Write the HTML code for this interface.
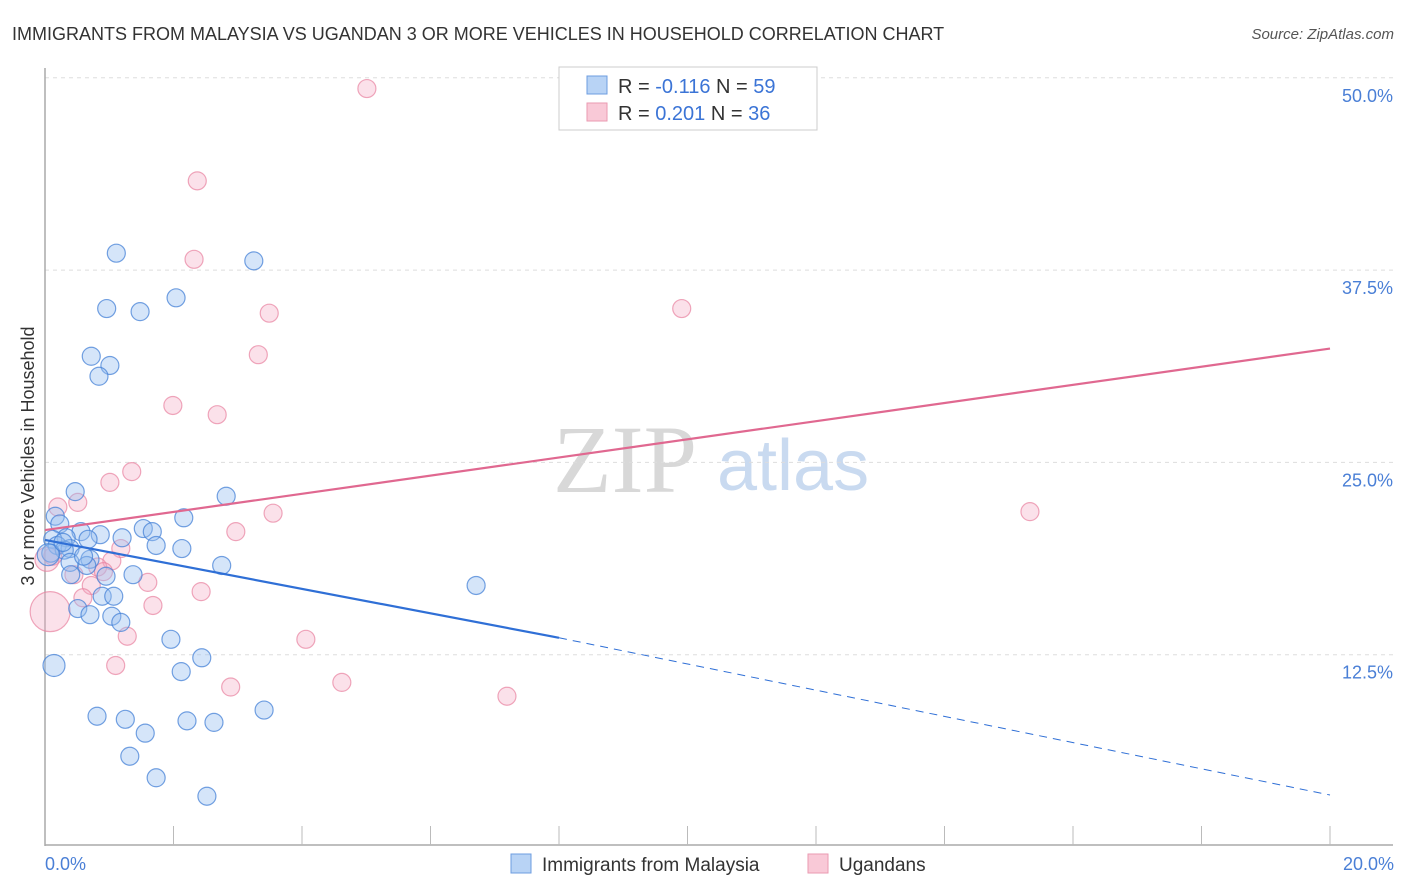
<!DOCTYPE html>
<html><head><meta charset="utf-8">
<style>
body{margin:0;background:#fff;font-family:"Liberation Sans",sans-serif;}
svg{display:block}
</style></head>
<body>
<svg id="chart" width="1406" height="892">
<text x="12" y="40" font-size="18" fill="#333">IMMIGRANTS FROM MALAYSIA VS UGANDAN 3 OR MORE VEHICLES IN HOUSEHOLD CORRELATION CHART</text>
<text x="1394" y="39" font-size="15" fill="#555" text-anchor="end" font-style="italic">Source: ZipAtlas.com</text>
<g>
<text x="553" y="492" font-size="96" font-family="Liberation Serif,serif" fill="#d8d8d8">ZIP</text>
<text x="717" y="490" font-size="72" fill="#c9daf0">atlas</text>
</g>
<g id="grid"></g>
<g id="axes"></g>
<g id="marks"></g>
<text transform="translate(34,456) rotate(-90)" font-size="18" fill="#333" text-anchor="middle">3 or more Vehicles in Household</text>
<text x="45" y="870" font-size="18" fill="#4a7fd6">0.0%</text>
<text x="1394" y="870" font-size="18" fill="#4a7fd6" text-anchor="end">20.0%</text>
<g>
<rect x="559" y="67" width="258" height="63" fill="#fff" stroke="#ccc"/>
<rect x="587" y="76" width="20" height="18" fill="#b8d3f5" stroke="#6d9de0"/>
<rect x="587" y="103" width="20" height="18" fill="#f9c9d7" stroke="#ea9ab2"/>
<text x="618" y="93" font-size="20" fill="#333">R = <tspan fill="#3b74d6">-0.116</tspan>   N = <tspan fill="#3b74d6">59</tspan></text>
<text x="618" y="120" font-size="20" fill="#333">R = <tspan fill="#3b74d6"> 0.201</tspan>   N = <tspan fill="#3b74d6">36</tspan></text>
</g>
<g>
<rect x="511" y="854" width="20" height="19" fill="#b8d3f5" stroke="#6d9de0"/>
<text x="542" y="871" font-size="19" fill="#333">Immigrants from Malaysia</text>
<rect x="808" y="854" width="20" height="19" fill="#f9c9d7" stroke="#ea9ab2"/>
<text x="839" y="871" font-size="19" fill="#333">Ugandans</text>
</g>
</svg>
<script>
const yTicks=[12.5,25,37.5,50];
const yTickLabels=["12.5%","25.0%","37.5%","50.0%"];
const blueX=[1.11,3.25,0.96,1.48,2.04,0.72,1.01,0.84,0.47,2.82,0.16,2.16,0.23,1.53,1.67,0.56,0.86,0.33,1.2,0.67,0.12,0.19,1.73,0.39,2.13,0.3,0.09,0.7,0.39,2.75,0.65,0.4,1.37,0.95,6.71,0.89,1.07,0.51,0.7,1.04,1.18,1.96,2.44,0.14,2.12,0.81,1.25,2.21,2.63,3.41,1.56,1.32,1.73,2.52,0.05,0.28,0.6];
const blueY=[38.6,38.1,35.0,34.8,35.7,31.9,31.3,30.6,23.1,22.8,21.5,21.4,21.0,20.7,20.5,20.5,20.3,20.1,20.1,20.0,20.0,19.6,19.6,19.4,19.4,19.3,19.1,18.7,18.5,18.3,18.3,17.7,17.7,17.6,17.0,16.3,16.3,15.5,15.1,15.0,14.6,13.5,12.3,11.8,11.4,8.5,8.3,8.2,8.1,8.9,7.4,5.9,4.5,3.3,19.0,19.8,18.9];
const blueR=[9,9,9,9,9,9,9,9,9,9,9,9,9,9,9,9,9,9,9,9,9,9,9,9,9,9,9,9,9,9,9,9,9,9,9,9,9,9,9,9,9,9,9,11,9,9,9,9,9,9,9,9,9,9,11,9,9];
const pinkX=[5.01,2.37,2.32,9.91,3.49,3.32,1.99,2.68,1.35,1.01,0.51,0.2,3.55,15.33,2.97,1.18,0.12,1.04,0.82,0.91,0.45,1.6,0.72,0.59,2.43,1.68,0.08,1.28,4.06,1.1,2.89,4.62,7.19,0.03];
const pinkY=[49.3,43.3,38.2,35.0,34.7,32.0,28.7,28.1,24.4,23.7,22.4,22.1,21.7,21.8,20.5,19.4,18.9,18.6,18.2,17.9,17.7,17.2,17.0,16.2,16.6,15.7,15.3,13.7,13.5,11.8,10.4,10.7,9.8,18.7];
const pinkR=[9,9,9,9,9,9,9,9,9,9,9,9,9,9,9,9,9,9,9,9,9,9,9,9,9,9,20,9,9,9,9,9,9,12];
const blueTrend=[0,19.96,8,13.6,20,3.38];
const pinkTrend=[0,20.6,20,32.4];
const X0=45,X1=1330,Y0=847,PXPER=192.3/12.5;
const xs=v=>X0+(X1-X0)*v/20;
const ys=v=>Y0-v*PXPER;
const NS="http://www.w3.org/2000/svg";
function mk(tag,attrs,parent){const e=document.createElementNS(NS,tag);for(const k in attrs)e.setAttribute(k,attrs[k]);parent.appendChild(e);return e;}
const grid=document.getElementById('grid'),axes=document.getElementById('axes'),marks=document.getElementById('marks');
yTicks.forEach((t,i)=>{
 const l=mk('line',{x1:X0,x2:1393,y1:ys(t),y2:ys(t),stroke:'#ddd','stroke-dasharray':'4,4'},grid);
 
 
 const tx=mk('text',{x:1393,y:ys(t)+24,'font-size':18,fill:'#4a7fd6','text-anchor':'end'},axes);
 tx.textContent=yTickLabels[i];
 
 
});
const ax=mk('line',{x1:X0,x2:X0,y1:68,y2:846,stroke:'#aaa','stroke-width':1.5},axes);


const bx=mk('line',{x1:X0,x2:1393,y1:845,y2:845,stroke:'#aaa','stroke-width':1.5},axes);


for(let i=1;i<=10;i++){
 const t=mk('line',{x1:xs(i*2),x2:xs(i*2),y1:826,y2:845,stroke:'#bbb'},axes);
 
 
}
pinkX.forEach((v,i)=>{
 const c=mk('circle',{cx:xs(v),cy:ys(pinkY[i]),r:pinkR[i],fill:'rgba(244,170,195,0.35)',stroke:'rgba(232,130,160,0.7)','stroke-width':1.2},marks);
 
 
});
blueX.forEach((v,i)=>{
 const c=mk('circle',{cx:xs(v),cy:ys(blueY[i]),r:blueR[i],fill:'rgba(150,190,240,0.4)',stroke:'rgba(70,130,215,0.75)','stroke-width':1.2},marks);
 
 
});
const bl=mk('line',{x1:xs(blueTrend[0]),y1:ys(blueTrend[1]),x2:xs(blueTrend[2]),y2:ys(blueTrend[3]),stroke:'#2f6fd6','stroke-width':2.2},marks);


const bd=mk('line',{x1:xs(blueTrend[2]),y1:ys(blueTrend[3]),x2:xs(blueTrend[4]),y2:ys(blueTrend[5]),stroke:'#2f6fd6','stroke-width':1,'stroke-dasharray':'8,6'},marks);


const pl=mk('line',{x1:xs(pinkTrend[0]),y1:ys(pinkTrend[1]),x2:xs(pinkTrend[2]),y2:ys(pinkTrend[3]),stroke:'#e06890','stroke-width':2.2},marks);


</script>
</body></html>
